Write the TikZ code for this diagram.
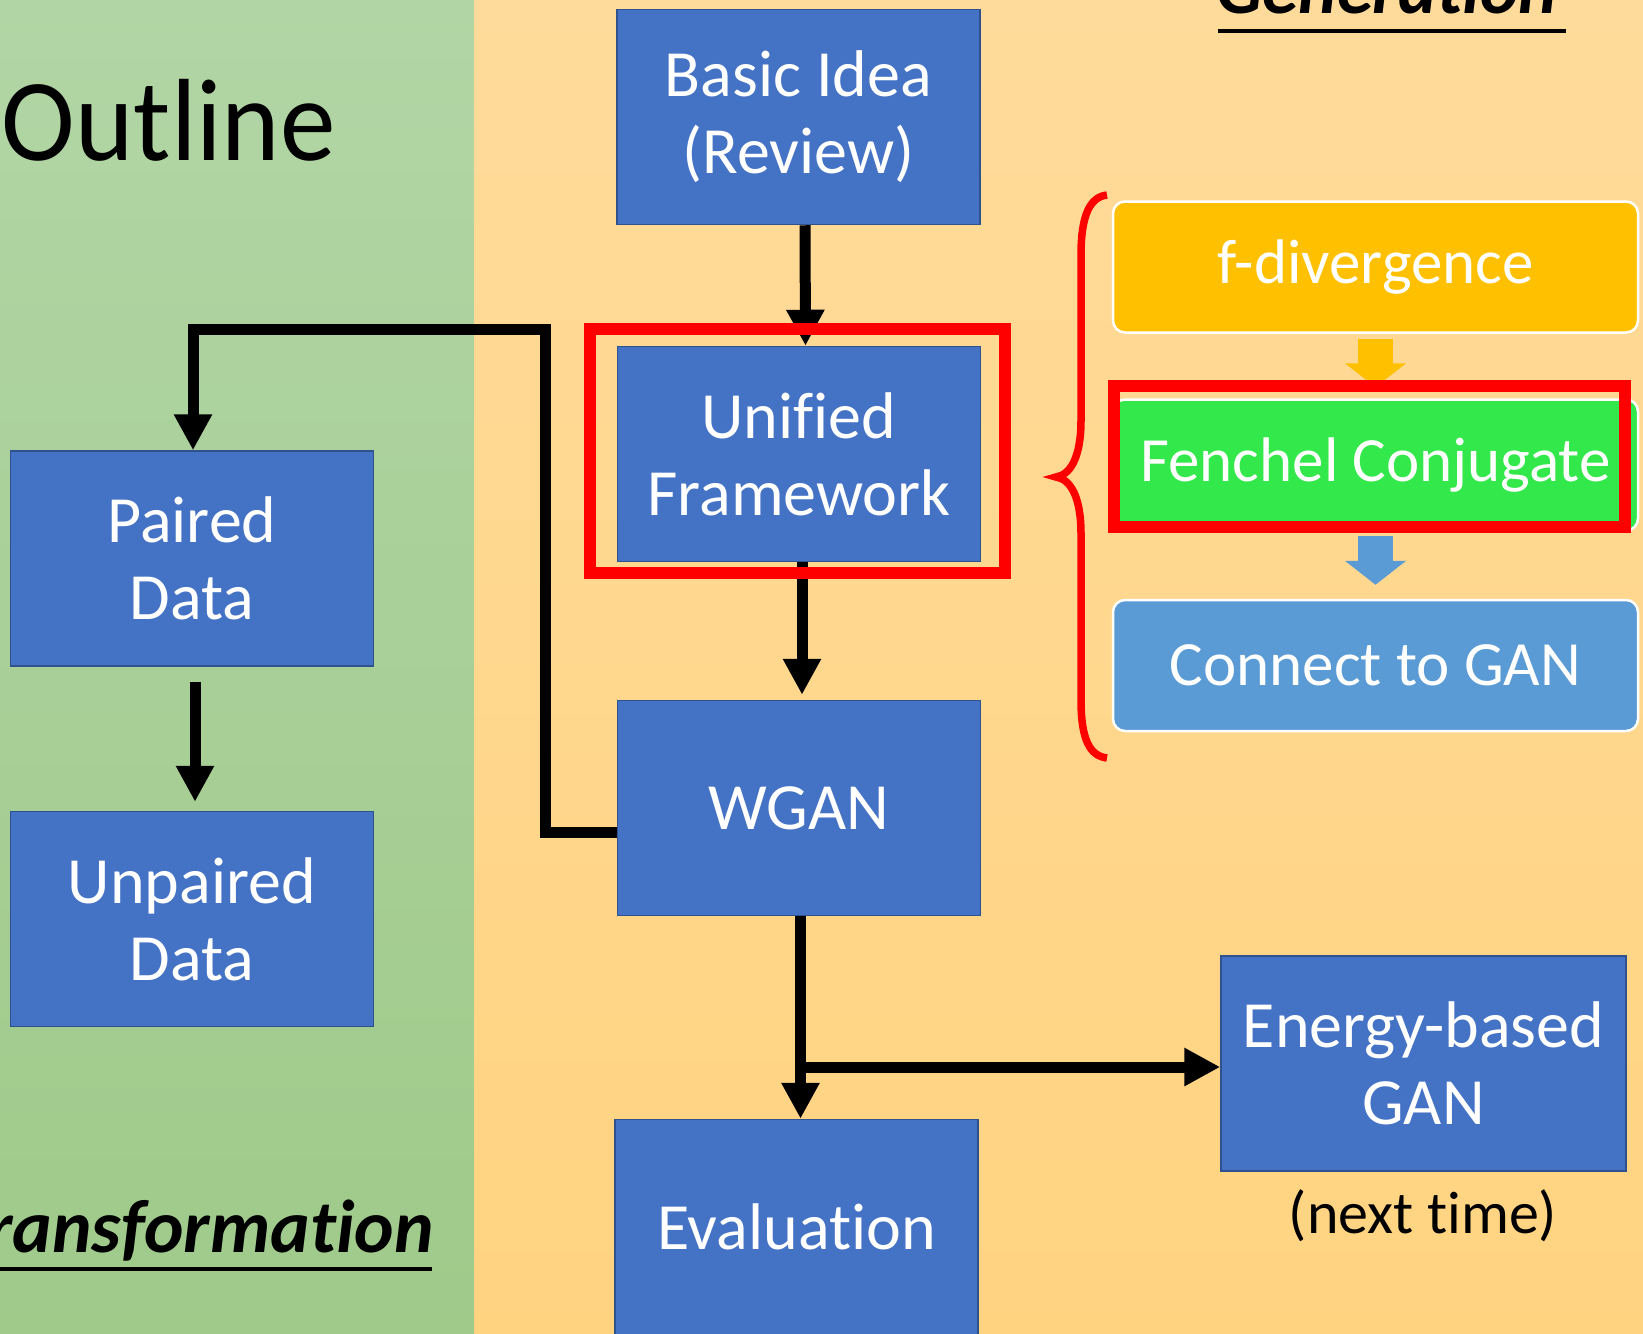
\documentclass[tikz,border=0pt]{standalone}
\usepackage{fontspec}
\setmainfont{Carlito}[Ligatures=NoCommon]
\newfontfamily\lightfont{Carlito}[Ligatures=NoCommon,FakeStretch=0.95]
\usetikzlibrary{arrows.meta,calc}
\definecolor{boxblue}{HTML}{4472C4}
\definecolor{boxedge}{HTML}{2F528F}
\definecolor{gold}{HTML}{FFC000}
\definecolor{brightgreen}{HTML}{33E84A}
\definecolor{lightblue}{HTML}{5B9BD5}
\definecolor{greentop}{HTML}{B2D5A5}
\definecolor{greenbot}{HTML}{9FCA8A}
\definecolor{orangetop}{HTML}{FFDB9B}
\definecolor{orangebot}{HTML}{FFD380}
\begin{document}
\begin{tikzpicture}[x=1pt,y=-1pt,
  bluebox/.style={draw=boxedge, line width=1.5pt, fill=boxblue, text=white,
    minimum width=363pt, minimum height=215pt, inner sep=0pt, align=center,
    font=\fontsize{66}{77}\selectfont},
  roundbox/.style={draw=white, line width=2.5pt, rounded corners=12pt, text=white,
    minimum width=525pt, minimum height=131pt, inner sep=0pt,
    font=\fontsize{63}{75}\selectfont},
  arr/.style={line width=11pt, line join=miter, -{Triangle[length=36pt 0 0,width=36pt 0 0]}},
  blockarr/.style={line width=35pt, -{Triangle[length=24pt 0 0,width=60pt 0 0]}},
  hl/.style={draw=red, line width=12pt},
  bracepath/.style={draw=red, line width=7.5pt},
  title/.style={inner sep=0pt, text=black},
  uline/.style={line width=3.5pt}
]
\useasboundingbox (0,0) rectangle (1643,1333);
\clip (0,0) rectangle (1643,1333);

% backgrounds
\shade[top color=greentop, bottom color=greenbot] (0,0) rectangle (474,1333);
\shade[top color=orangetop, bottom color=orangebot] (474,0) rectangle (1643,1333);

% titles
\node[title, font=\lightfont\fontsize{117}{140}\selectfont, anchor=base east] (outline) at (336,160) {Outline};
\node[title, font=\fontsize{75}{90}\selectfont\bfseries\itshape, anchor=base east] (trans) at (434,1252) {Transformation};
\draw[uline] (0,1269) -- (432,1269);
\node[title, font=\fontsize{73}{88}\selectfont\bfseries\itshape, anchor=base west] (gen) at (1216,13) {Generation};
\draw[uline] (1218,31) -- (1566,31);

% blue boxes
\node[bluebox] (basic) at (798.5,117) {Basic Idea\\(Review)};
\node[bluebox] (unified) at (799,454) {Unified\\Framework};
\node[bluebox] (wgan) at (799,808) {WGAN};
\node[bluebox] (eval) at (796.5,1227) {Evaluation};
\node[bluebox] (paired) at (192,558.5) {Paired\\Data};
\node[bluebox] (unpaired) at (192,919) {Unpaired\\Data};
\node[bluebox, minimum width=405pt] (energy) at (1423.5,1063.5) {Energy-based\\GAN};
\node[title, font=\fontsize{60}{72}\selectfont, anchor=base] (next) at (1423,1233) {(next time)};

% right side boxes
\node[roundbox, fill=gold] (fdiv) at (1375.5,267) {f-divergence};
\node[roundbox, fill=brightgreen] (fench) at (1375.5,465) {Fenchel Conjugate};
\node[roundbox, fill=lightblue] (conn) at (1375.5,665.5) {Connect to GAN};

% block arrows
\draw[blockarr, gold, shorten <=5pt, shorten >=11pt] (fdiv.south) -- (fench.north);
\draw[blockarr, lightblue, shorten <=4pt, shorten >=14pt] (fench.south) -- (conn.north);

% black connectors
\draw[arr] ([xshift=6.5pt]basic.south) -- ([xshift=6.5pt]unified.north);
\draw[arr, shorten >=5pt] ([xshift=3pt]unified.south) -- ([xshift=3pt]wgan.north);
\draw[arr] ([xshift=1.5pt]wgan.south) -- ([xshift=1.5pt]wgan.south |- eval.north);
\coordinate (junc) at ($(wgan.south |- energy.west)+(1.5,3.5)$);
\draw[arr] (junc) -- ([yshift=-3.5pt]energy.west);
\draw[arr, shorten <=15pt, shorten >=9pt] ([xshift=3pt]paired.south) -- ([xshift=3pt]unpaired.north);
\coordinate (bend) at (545.5,329);
\draw[arr] ([yshift=-24pt]wgan.west) -| (bend) -| ([xshift=1pt]paired.north);

% highlight frames
\draw[hl] ([xshift=-27pt,yshift=17pt]unified.north west) rectangle ([xshift=24pt,yshift=-11pt]unified.south east);
\draw[hl] ([xshift=2pt,yshift=12pt]fench.north west) rectangle ([xshift=-14pt,yshift=5pt]fench.south east);

% brace
\draw[bracepath] (1107,195) .. controls (1090,197) and (1081,215) .. (1081,255)
  -- (1081,420) .. controls (1081,458) and (1070,475) .. (1056,477)
  .. controls (1070,479) and (1081,496) .. (1081,534)
  -- (1081,700) .. controls (1081,740) and (1090,756) .. (1107,758);
\end{tikzpicture}
\end{document}
